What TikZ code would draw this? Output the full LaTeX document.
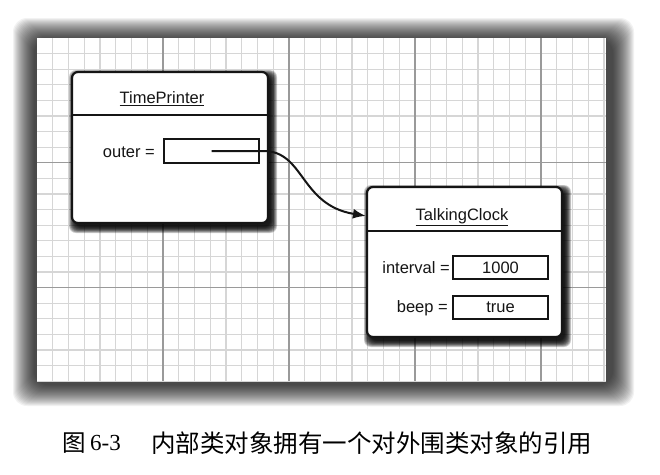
\documentclass[tikz,border=0pt]{standalone}
\usepackage{fontspec}
\setmainfont{Liberation Sans}
\newfontfamily\cjk{Noto Sans CJK SC}
\newfontfamily\serifnum{Liberation Serif}
\usetikzlibrary{arrows.meta,calc}
\definecolor{ink}{HTML}{151515}
\definecolor{minorgrid}{HTML}{D6D6D6}
\definecolor{majorgrid}{HTML}{9A9A9A}
\newcommand\myshade[4]{%
  \foreach \i in {0,...,9}{%
    \fill[black,opacity=0.2,rounded corners=7pt]
      ({#1+3-6+\i*0.7},{#2+4-6+\i*0.7}) rectangle ({#3+3+6-\i*0.7},{#4+4+6-\i*0.7});
  }%
}
\tikzset{
  objbox/.style={draw=ink,line width=2.2pt,fill=white,rounded corners=6pt,inner sep=0pt},
  fieldbox/.style={draw=ink,line width=2pt,fill=white,inner sep=0pt,minimum width=95pt,font=\fontsize{16.5}{18}\selectfont,text=ink},
  lbl/.style={font=\fontsize{16.5}{18}\selectfont,text=ink,inner sep=0pt},
  divider/.style={draw=ink,line width=1.5pt},
  conn/.style={draw=ink,line width=2pt,-{Latex[length=13pt,width=10pt]}},
  minorline/.style={draw=minorgrid,line width=1.2pt},
  majorline/.style={draw=majorgrid,line width=1.3pt},
}
\begin{document}
\begin{tikzpicture}[x=1pt,y=-1pt]
\useasboundingbox (0,0) rectangle (660,474);
\fill[white] (0,0) rectangle (660,474);
% frame shadow
\foreach \i in {0,...,21}{
  \fill[black,opacity=0.05,rounded corners=14pt] ({37-24+\i},{38-20+\i}) rectangle ({606+28-\i},{381+25-\i});
}
\fill[white] (37,38) rectangle (606,381);
\begin{scope}
\clip (37,38) rectangle (606,381);
\foreach \k in {1,...,36} \draw[minorline] ({37+\k*15.75},38) -- ++(0,343);
\foreach \k in {1,...,22} \draw[minorline] (37,{38+\k*15.6}) -- ++(569,0);
\foreach \k in {1,...,4} \draw[majorline] ({37+\k*126},38) -- ++(0,343);
\foreach \k in {1,2} \draw[majorline] (37,{38+\k*124.8}) -- ++(569,0);
\end{scope}
% TimePrinter object
\myshade{72}{72}{268}{223}
\node[objbox,minimum width=196pt,minimum height=151pt] (tp) at (170,147.5) {};
\draw[divider] (72,115) -- (268,115);
\node[lbl] (tptitle) at (162,99) {\underline{TimePrinter}};
\node[lbl,anchor=east] (outerlbl) at (155,152) {outer =};
\node[fieldbox,minimum height=24pt] (outerf) at (211.5,151) {};
% TalkingClock object
\myshade{367}{187}{562}{337}
\node[objbox,minimum width=195pt,minimum height=150pt] (tc) at (464.5,262) {};
\draw[divider] (367,231) -- (562,231);
\node[lbl] (tctitle) at (462,217) {\underline{TalkingClock}};
\node[lbl,anchor=east] (intlbl) at (450,268) {interval =};
\node[fieldbox,minimum height=23pt] (intf) at (500.5,267.5) {1000};
\node[lbl,anchor=east] (beeplbl) at (448,308) {beep =};
\node[fieldbox,minimum height=23pt] (beepf) at (500.5,307.5) {true};
% reference arrow
\coordinate (tcin) at ($(tc.north west)+(0,30)$);
\draw[conn] (outerf.center) -- ++(52,0) .. controls +(41,0) and (300,205) .. (tcin);
% caption
\node[anchor=west,inner sep=0pt,font=\cjk\fontsize{23.5}{26}\selectfont] (capfig) at (62,443) {图};
\node[anchor=west,inner sep=0pt,font=\serifnum\fontsize{23}{26}\selectfont] (capnum) at (90,443) {6-3};
\node[anchor=west,inner sep=0pt,font=\cjk\fontsize{24.5}{26}\selectfont] (captext) at (151,443) {内部类对象拥有一个对外围类对象的引用};
\end{tikzpicture}
\end{document}
